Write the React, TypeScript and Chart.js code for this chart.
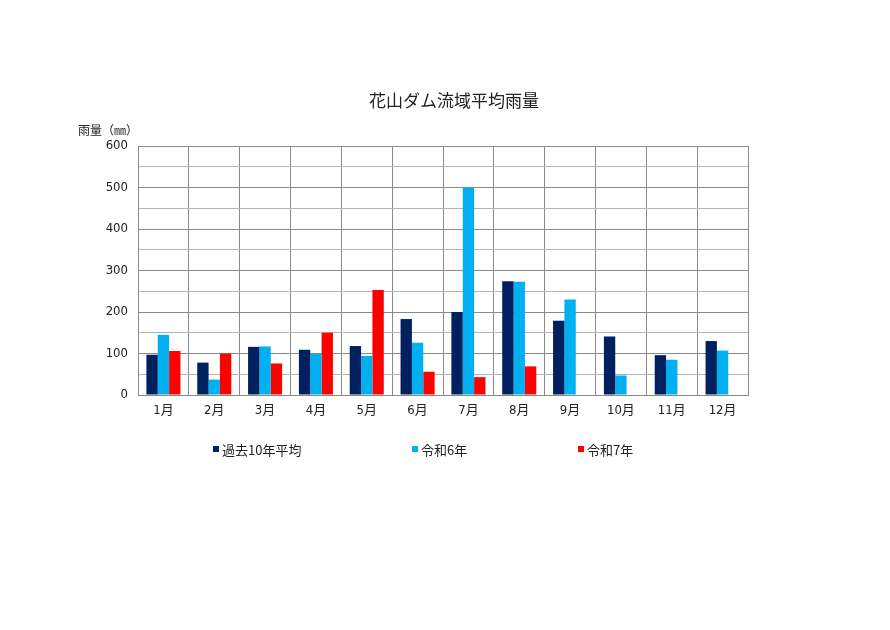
import React, { useEffect, useRef } from 'react';
import Chart from 'chart.js/auto';

const months = ['1月', '2月', '3月', '4月', '5月', '6月', '7月', '8月', '9月', '10月', '11月', '12月'];
const avg10 = [97, 78, 116, 109, 118, 183, 200, 274, 179, 141, 96, 130];
const reiwa6 = [145, 37, 117, 99, 94, 126, 500, 273, 230, 47, 85, 107];
const reiwa7 = [106, 100, 76, 150, 253, 56, 43, 69, null, null, null, null];
const seriesNames = ['過去10年平均', '令和6年', '令和7年'];
const seriesColors = ['#002060', '#00B0F0', '#FF0000'];

const tickFont = "'Liberation Sans Narrow', 'DejaVu Sans Condensed', 'Noto Sans CJK JP', sans-serif";
const jpFont = "'Noto Sans CJK JP', sans-serif";

const App: React.FC = () => {
  const canvasRef = useRef<HTMLCanvasElement>(null);
  const chartRef = useRef<Chart | null>(null);

  useEffect(() => {
    if (!canvasRef.current) return;
    if (chartRef.current) chartRef.current.destroy();

    chartRef.current = new Chart(canvasRef.current, {
      type: 'bar',
      data: {
        labels: months,
        datasets: [avg10, reiwa6, reiwa7].map((d, i) => ({
          label: seriesNames[i],
          data: d,
          backgroundColor: seriesColors[i],
          borderWidth: 0,
          categoryPercentage: 0.67,
          barPercentage: 1.0,
        })),
      },
      options: {
        responsive: false,
        animation: false,
        layout: {
          padding: { left: 98, right: 142, top: 146, bottom: 205 },
        },
        plugins: {
          legend: { display: false },
          title: { display: false },
          tooltip: { enabled: false },
        },
        scales: {
          x: {
            afterFit: (scale: any) => {
              scale.height = 30;
            },
            grid: {
              color: '#8a8a8a',
              drawTicks: false,
              offset: true,
            },
            border: { color: '#8a8a8a' },
            ticks: {
              color: '#222',
              padding: 8,
              font: { family: tickFont, size: 13 },
            },
          },
          y: {
            min: 0,
            max: 600,
            afterFit: (scale: any) => {
              scale.width = 40;
            },
            grid: {
              color: (ctx: any) => (ctx.tick && ctx.tick.value % 100 === 0 ? '#8a8a8a' : '#b4b4b4'),
              drawTicks: false,
            },
            border: { color: '#8a8a8a' },
            ticks: {
              stepSize: 50,
              color: '#222',
              padding: 10,
              font: { family: tickFont, size: 13 },
              callback: (v: any) => (Number(v) % 100 === 0 ? String(v) : ''),
            },
          },
        },
      },
    });

    return () => {
      if (chartRef.current) {
        chartRef.current.destroy();
        chartRef.current = null;
      }
    };
  }, []);

  // legend item positions (box left edge)
  const legendX = [213, 412, 578];

  return (
    <div style={{ position: 'fixed', left: 0, top: 0, width: 890, height: 630, background: '#fff', fontFamily: jpFont }}>
      <canvas ref={canvasRef} width={890} height={630} style={{ position: 'absolute', left: 0, top: 0 }} />
      <div
        style={{
          position: 'absolute',
          left: 0,
          width: 908,
          top: 88,
          textAlign: 'center',
          fontSize: 17,
          lineHeight: '24px',
          color: '#222',
        }}
      >
        花山ダム流域平均雨量
      </div>
      <div style={{ position: 'absolute', left: 78, top: 121, fontSize: 12, lineHeight: '18px', color: '#222' }}>
        雨量（㎜）
      </div>
      {seriesNames.map((name, i) => (
        <div
          key={name}
          style={{
            position: 'absolute',
            left: legendX[i],
            top: 440,
            height: 18,
            display: 'flex',
            alignItems: 'center',
            fontSize: 13,
            color: '#222',
            whiteSpace: 'nowrap',
          }}
        >
          <span style={{ display: 'inline-block', width: 6, height: 6, background: seriesColors[i], marginRight: 3 }} />
          {name}
        </div>
      ))}
    </div>
  );
};

export default App;
